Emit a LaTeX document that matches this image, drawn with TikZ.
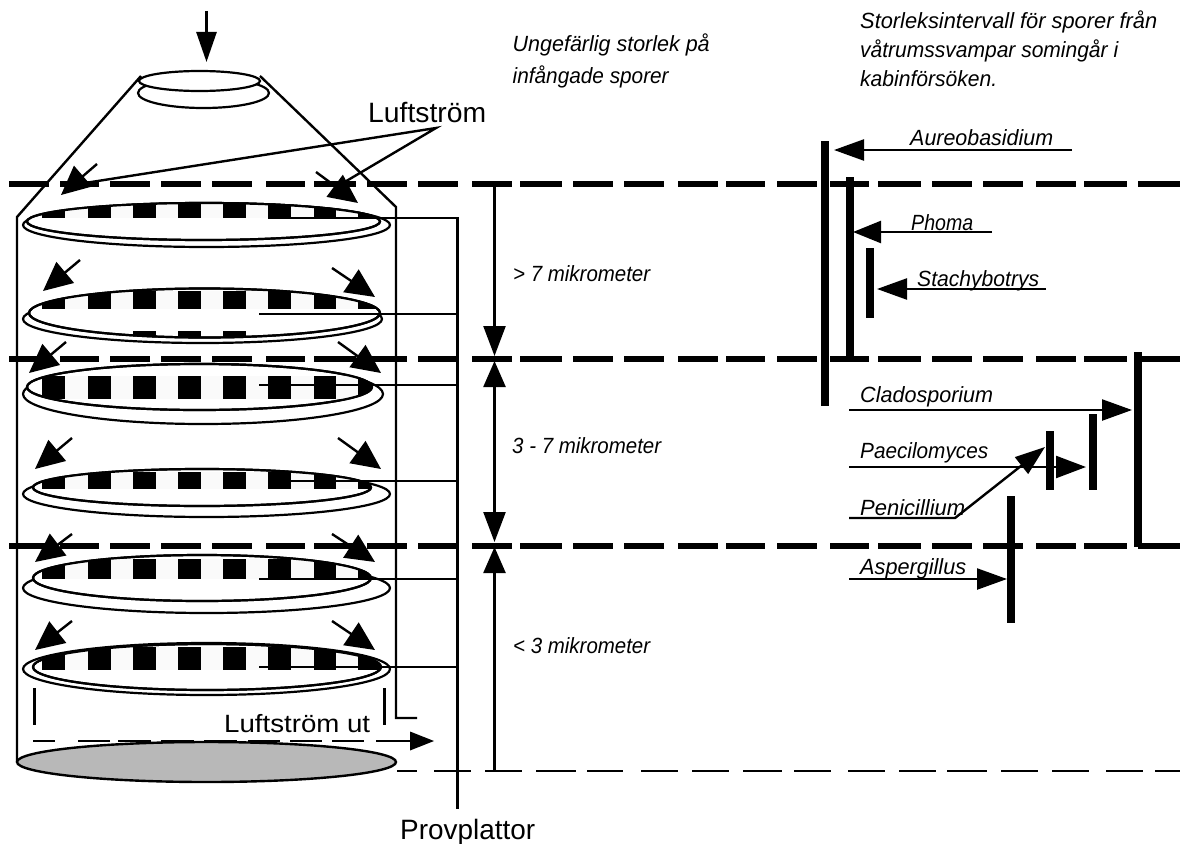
\documentclass[tikz,border=0pt]{standalone}
\usepackage{fontspec}
\setmainfont{Liberation Sans}
\usetikzlibrary{arrows.meta}
\newcommand\fitw[2]{\setbox0=\hbox{#2}\scalebox{\fpeval{#1/(\the\wd0)}}[1]{#2}}
\tikzset{
  thickdash/.style={line width=5.5pt},
  thindash/.style={line width=2.9pt},
  wire/.style={line width=2.4pt},
  plate/.style={line width=2.2pt,fill=white},
  bar/.style={line width=8pt},
  flow/.style={line width=2.4pt,-{Triangle[length=29pt,width=27pt]}},
  species/.style={line width=2.4pt,-{Triangle[length=30pt,width=21pt]}},
  dim/.style={line width=2.4pt},
  upright/.style={inner sep=0pt,anchor=base west,font=\fontsize{28}{32}\selectfont},
  note/.style={inner sep=0pt,anchor=base west,font=\fontsize{22}{25}\selectfont\itshape},
}
\newcommand\squares[2]{%
  \foreach \a/\b in {42/65,88/111,133/156,178/201,223/246,268/291,314/336,358/381}
    \fill[black] (\a,#1) rectangle (\b,#2);
  \foreach \a/\b in {65/88,111/133,156/178,201/223,246/268,291/314,336/358}
    \fill[black!2] (\a,#1) rectangle (\b,#2);
}
\newcommand\plate[9]{%
  \draw[plate] (#1,#2) ellipse [x radius=#3,y radius=#4];
  \draw[plate] (#5,#6) ellipse [x radius=#7,y radius=#8];
  \begin{scope}
    \clip (#5,#6) ellipse [x radius=#7,y radius=#8];
    #9
  \end{scope}
  \draw[line width=2.2pt] (#5,#6) ellipse [x radius=#7,y radius=#8];
}
\newcommand\thickline[1]{%
  \foreach \a/\b in {9/49,60/99,110/150,161/201,212/252,266/305,314/356,367/407,418/458,472/512,520/562,573/613,624/664,678/718,726/765,777/817,830/869,878/921,932/972,983/1023,1036/1076,1084/1127,1138/1180}
    \draw[thickdash] (\a,#1) -- (\b,#1);
}
\begin{document}
\begin{tikzpicture}[x=1pt,y=-1pt]
\useasboundingbox (0,0) rectangle (1180,843);
\fill[white] (0,0) rectangle (1180,843);

% level lines
\thickline{184}
\thickline{359}
\thickline{546}
\foreach \a/\b in {397/417,434/471,485/521.5,536/576,587/623,641/678,692/729,743/782,794/831,848/885,899/936,947/987,1001/1038,1052/1089,1106/1143,1155/1180}
  \draw[thindash] (\a,771) -- (\b,771);

% housing
\draw[wire,line join=miter] (17,762) -- (17,217) -- (141,76);
\draw[wire,line join=miter] (260,76) -- (396,207) -- (396,718) -- (417,718);

% inlet
\draw[plate] (203.5,93) ellipse [x radius=65.5,y radius=15];
\draw[plate] (199.5,81) ellipse [x radius=60.5,y radius=10];

% plates
\plate{206.5}{225}{183.5}{22}{203.5}{221.5}{176.5}{18.5}{\squares{203}{218}}
\plate{202.5}{319}{179.5}{24}{204.5}{313}{175.5}{24.5}{\squares{291}{309}
  \foreach \a/\b in {133/156,178/201,223/246} \fill[black] (\a,331) rectangle (\b,340);}
\plate{203}{394}{180}{30}{199.5}{387}{172.5}{23}{\squares{376}{399}}
\plate{206.5}{494}{183.5}{23}{202}{487.5}{169}{18.5}{\squares{472}{489}}
\plate{206.5}{588}{183.5}{25}{202}{578}{169}{23}{\squares{559}{579}}
\plate{206.5}{669}{183.5}{26}{207}{667}{174}{23}{\squares{647}{670}}

% bottom
\draw[line width=2.4pt,fill=black!28] (206.5,762) ellipse [x radius=189.5,y radius=20];
\draw[wire] (34.5,688) -- (34.5,725);
\draw[wire] (384.5,688) -- (384.5,725);
\foreach \a/\b in {33/55,78/110,118/151,161/194,204/237,248/280,290/322,332/364,376/411}
  \draw[line width=2.5pt] (\a,741) -- (\b,741);
\coordinate (outT) at (434,741);
\fill (410,731.5) -- (outT) -- (410,750.5) -- cycle;

% wires to plates
\draw[wire] (268,218) -- (457.5,218) -- (457.5,809);
\foreach \x/\y in {259/314,259/385,268/481,259/579,259/667}
  \draw[wire] (\x,\y) -- (457.5,\y);

% flow arrows
\draw[line width=2.6pt,-{Triangle[length=30pt,width=20pt]}] (206.5,11) -- (206.5,62);
\foreach \a/\b/\c/\d in {97/164/61/195,316/172/358/203,80/260/43/291,332/268/375/297,66/342/29/373,338/342/381/373,72/438/35/469,338/438/381/469,72/534/35/562,332/534/375/562,72/621/35/650,332/621/375/650}
  \draw[flow] (\a,\b) -- (\c,\d);

% labels left
\node[upright] (luft) at (368,122) {\fitw{118}{Luftström}};
\coordinate (luftP) at (436,128);
\coordinate (luftL) at (85,183);
\coordinate (luftR) at (343,183);
\draw[wire] (luftL) -- (luftP) -- (luftR);
\node[upright,font=\fontsize{25}{30}\selectfont] (lut) at (224,732) {\fitw{146}{Luftström ut}};
\node[upright] (prov) at (400,839) {\fitw{135}{Provplattor}};

% size dimension arrows
\coordinate (a0) at (494.5,181); \coordinate (a1) at (494.5,356);
\coordinate (a2) at (494.5,361); \coordinate (a3) at (494.5,542);
\coordinate (a4) at (494.5,547); \coordinate (a5) at (494.5,771);
\draw[dim,-{Triangle[length=30pt,width=22pt]}] (a0) -- (a1);
\draw[dim,{Triangle[length=26pt,width=22pt]}-{Triangle[length=30pt,width=22pt]}] (a2) -- (a3);
\draw[dim,{Triangle[length=26pt,width=22pt]}-] (a4) -- (a5);

% notes
\node[note] (n1) at (512.5,52) {\fitw{197}{Ungefärlig storlek på}};
\node[note] (n2) at (512.5,83) {\fitw{156}{infångade sporer}};
\node[note] (s1) at (513,281) {\fitw{137}{> 7 mikrometer}};
\node[note] (s2) at (512,453) {\fitw{149}{3 - 7 mikrometer}};
\node[note] (s3) at (513,653) {\fitw{137}{< 3 mikrometer}};
\node[note] (h1) at (860,29) {\fitw{297}{Storleksintervall för sporer från}};
\node[note] (h2) at (860,57.5) {\fitw{258}{våtrumssvampar somingår i}};
\node[note] (h3) at (860,86) {\fitw{137}{kabinförsöken.}};

% species bars
\draw[bar] (824.5,141) -- (824.5,406);
\draw[bar] (850,177) -- (850,359);
\draw[bar] (870,248) -- (870,318);
\draw[bar] (1138,352) -- (1138,547);
\draw[bar] (1050,431) -- (1050,490);
\draw[bar] (1093,414) -- (1093,490);
\draw[bar] (1011,496) -- (1011,623);

% species labels and arrows
\node[note] (aur) at (910,145) {\fitw{143}{Aureobasidium}};
\node[note] (pho) at (911,230) {\fitw{62}{Phoma}};
\node[note] (sta) at (917,286) {\fitw{122}{Stachybotrys}};
\node[note] (cla) at (860,402) {\fitw{133}{Cladosporium}};
\node[note] (pae) at (860,458) {\fitw{128}{Paecilomyces}};
\node[note] (pen) at (860,515) {\fitw{105}{Penicillium}};
\node[note] (asp) at (860,574) {\fitw{106}{Aspergillus}};

\coordinate (aurS) at (1072,150); \coordinate (aurT) at (834,150);
\coordinate (phoS) at (992,232);  \coordinate (phoT) at (853,232);
\coordinate (staS) at (1046,289); \coordinate (staT) at (877,289);
\coordinate (claS) at (849,410);  \coordinate (claT) at (1132,410);
\coordinate (paeS) at (849,467);  \coordinate (paeT) at (1086,467);
\coordinate (penS) at (849,518);  \coordinate (penM) at (955,518); \coordinate (penT) at (1045,447);
\coordinate (aspS) at (849,579);  \coordinate (aspT) at (1007,579);
\draw[species] (aurS) -- (aurT);
\draw[species,-{Triangle[length=28pt,width=22pt]}] (phoS) -- (phoT);
\draw[species] (staS) -- (staT);
\draw[species] (claS) -- (claT);
\draw[species,-{Triangle[length=30pt,width=22pt]}] (paeS) -- (paeT);
\draw[species,line join=round] (penS) -- (penM) -- (penT);
\draw[species] (aspS) -- (aspT);
\end{tikzpicture}
\end{document}
